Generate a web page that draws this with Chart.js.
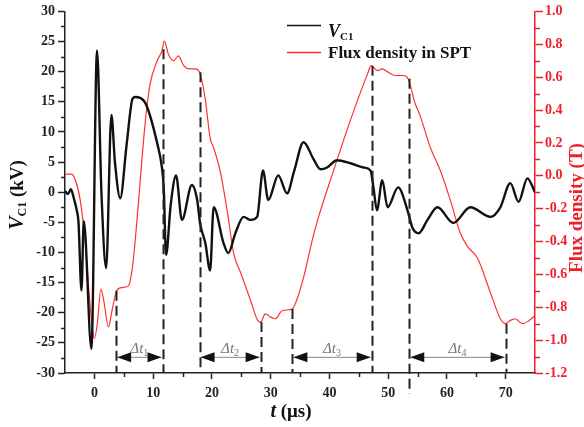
<!DOCTYPE html>
<html>
<head>
<meta charset="utf-8">
<script src="https://cdn.jsdelivr.net/npm/chart.js@4/dist/chart.umd.min.js"></script>
<style>
  body { margin: 0; background: #fff; }
  #wrap { width: 584px; height: 427px; }
</style>
</head>
<body>
<div id="wrap"><canvas id="chart" width="584" height="427"></canvas></div>
<script>
// datos
const tVc1 = [-5, -4.5, -4, -3.5, -3.0, -2.7, -2.2, -1.8, -0.5, 0.45, 1.2, 2.0, 2.9, 3.5, 4.4, 5.5, 6.5, 7.0, 8.4, 9.0, 10.7, 11.5, 11.8, 12.2, 13.0, 13.9, 14.9, 16.6, 17.5, 18.0, 18.9, 19.7, 20.3, 22.0, 22.8, 24.0, 25.4, 26.6, 27.7, 28.7, 29.6, 31.3, 32.8, 34.0, 35.6, 37.3, 38.5, 39.6, 41.3, 43.6, 45.8, 47.0, 47.5, 48.1, 49.0, 49.9, 51.7, 53.3, 54.1, 55.2, 56.7, 58.4, 61.1, 64.0, 67.4, 69.1, 70.8, 72.2, 73.7, 75];
const vc1 = [0.2, -0.3, 0.5, -1.0, -3.0, -5, -16.3, -4.8, -26, 23.5, 0, -12.6, 12.8, 5, -1.0, 8, 15.5, 15.8, 15.2, 14.1, 8.1, 4.1, 0.8, -10.4, -2, 2.8, -4.6, 1.2, -1.3, -5.2, -8.5, -13, -2.5, -8.5, -10.1, -6.8, -4.1, -4.6, -4.1, 3.6, -1.3, 2.8, -0.2, 3.5, 8.3, 5.5, 3.8, 4.1, 5.3, 4.8, 4.1, 3.6, 0.8, -3.0, 2.0, -2.5, 0.8, -3.0, -5.8, -6.8, -4.6, -2.5, -5.1, -2.5, -4.1, -2.5, 1.5, -1.6, 2.3, 0];

const tFlux = [-5, -3.9, -3.3, -2.4, -1.5, -0.7, 0, 0.5, 1.1, 1.6, 2.4, 3.0, 3.8, 4.7, 5.8, 6.5, 7.3, 7.8, 8.7, 9.5, 10.7, 11.5, 11.9, 12.6, 13.5, 14.3, 15.2, 16.3, 17.2, 18.0, 18.9, 19.7, 20.3, 21.4, 22.6, 23.7, 24.9, 26.6, 27.8, 28.3, 29.1, 30.0, 30.8, 32.0, 33.7, 34.4, 35.6, 37.1, 38.0, 40.7, 43.6, 46.5, 47.1, 48.2, 49.0, 50.0, 51.2, 52.6, 53.4, 54.6, 55.5, 57.2, 58.9, 60.6, 62.3, 63.5, 65.2, 67.4, 69.1, 70.0, 70.8, 71.7, 72.4, 73.0, 74.0, 75];
const flux = [0.01, 0.01, -0.02, -0.15, -0.43, -0.8, -0.99, -0.9, -0.69, -0.76, -0.92, -0.82, -0.70, -0.68, -0.67, -0.55, -0.25, -0.03, 0.34, 0.56, 0.70, 0.76, 0.82, 0.74, 0.70, 0.73, 0.67, 0.65, 0.65, 0.62, 0.46, 0.23, 0.17, 0.03, -0.21, -0.47, -0.59, -0.76, -0.88, -0.89, -0.84, -0.86, -0.87, -0.82, -0.81, -0.76, -0.62, -0.39, -0.27, 0.03, 0.34, 0.62, 0.67, 0.64, 0.65, 0.63, 0.61, 0.61, 0.59, 0.44, 0.36, 0.17, 0.03, -0.15, -0.35, -0.43, -0.50, -0.71, -0.87, -0.90, -0.88, -0.87, -0.89, -0.90, -0.88, -0.85];

// ticks
const xTicks = [0, 10, 20, 30, 40, 50, 60, 70];
const yTicks = [-30, -25, -20, -15, -10, -5, 0, 5, 10, 15, 20, 25, 30];
const y1Ticks = [-1.2, -1.0, -0.8, -0.6, -0.4, -0.2, 0.0, 0.2, 0.4, 0.6, 0.8, 1.0];

// lineas discontinuas: tiempo y valor de flujo donde empiezan
const markT = [3.7, 11.6, 17.9, 28.3, 33.7, 47.2, 53.6, 70.0];
const markFlux = [-0.70, 0.77, 0.63, -0.89, -0.81, 0.67, 0.59, -0.90];

// flechas delta t
const arrowFrom = [3.7, 17.9, 33.7, 53.6];
const arrowTo = [11.6, 28.3, 47.2, 70.0];
const arrowNames = ['1', '2', '3', '4'];
const arrowV = -27.4;

const SERIF = '"Liberation Serif", "Times New Roman", serif';
const RED = '#f0202a';
const AX = '#222';

function pts(xs, ys){ return xs.map((x, i) => ({x: x, y: ys[i]})); }

function richWidth(ctx, parts){
    let w = 0;
    parts.forEach(p => { ctx.font = p.font; w += ctx.measureText(p.t).width; });
    return w;
}
function drawRich(ctx, parts, x, y){
    parts.forEach(p => {
        ctx.font = p.font;
        ctx.fillText(p.t, x, y + (p.dy || 0));
        x += ctx.measureText(p.t).width;
    });
}

const overlay = {
    id: 'overlay',
    afterDatasetsDraw(chart){
        const ctx = chart.ctx;
        const xs = chart.scales.x, ys = chart.scales.y, y1 = chart.scales.y1;
        const area = chart.chartArea;
        ctx.save();
        // lineas discontinuas
        ctx.strokeStyle = AX;
        ctx.lineWidth = 2;
        ctx.setLineDash([10, 5]);
        markT.forEach((t, i) => {
            const px = Math.round(xs.getPixelForValue(t)) + 0.5;
            const top = y1.getPixelForValue(markFlux[i]);
            const bot = i === 6 ? area.bottom + 21 : area.bottom;
            ctx.beginPath();
            ctx.moveTo(px, top);
            ctx.lineTo(px, bot);
            ctx.stroke();
        });
        ctx.setLineDash([]);
        // flechas
        const ay = ys.getPixelForValue(arrowV);
        arrowFrom.forEach((a, i) => {
            const x0 = xs.getPixelForValue(a) + 1;
            const x1 = xs.getPixelForValue(arrowTo[i]) - 1;
            ctx.strokeStyle = '#888';
            ctx.lineWidth = 1;
            ctx.beginPath();
            ctx.moveTo(x0, ay);
            ctx.lineTo(x1, ay);
            ctx.stroke();
            ctx.fillStyle = '#111';
            ctx.beginPath();
            ctx.moveTo(x0, ay); ctx.lineTo(x0 + 14, ay - 5); ctx.lineTo(x0 + 14, ay + 5); ctx.closePath();
            ctx.fill();
            ctx.beginPath();
            ctx.moveTo(x1, ay); ctx.lineTo(x1 - 14, ay - 5); ctx.lineTo(x1 - 14, ay + 5); ctx.closePath();
            ctx.fill();
            // etiqueta
            const parts = [
                {t: '\u0394t', font: 'italic 15px ' + SERIF},
                {t: arrowNames[i], font: '10px ' + SERIF, dy: 3}
            ];
            const w = richWidth(ctx, parts);
            ctx.fillStyle = '#777';
            ctx.textBaseline = 'alphabetic';
            drawRich(ctx, parts, (x0 + x1) / 2 - w / 2, ay - 4);
        });
        ctx.restore();
    },
    afterDraw(chart){
        const ctx = chart.ctx;
        const xs = chart.scales.x, ys = chart.scales.y, y1 = chart.scales.y1;
        const area = chart.chartArea;
        ctx.save();
        // ticks menores
        ctx.lineWidth = 1.5;
        ctx.strokeStyle = AX;
        for (let v = -27.5; v < 30; v += 5){
            const py = Math.round(ys.getPixelForValue(v)) + 0.5;
            ctx.beginPath(); ctx.moveTo(area.left, py); ctx.lineTo(area.left - 4, py); ctx.stroke();
        }
        for (let v = 5; v < 70; v += 10){
            const px = Math.round(xs.getPixelForValue(v)) + 0.5;
            ctx.beginPath(); ctx.moveTo(px, area.bottom); ctx.lineTo(px, area.bottom + 4); ctx.stroke();
        }
        ctx.strokeStyle = RED;
        for (let k = 0; k < 11; k++){
            const v = -1.1 + k * 0.2;
            const py = Math.round(y1.getPixelForValue(v)) + 0.5;
            ctx.beginPath(); ctx.moveTo(area.right, py); ctx.lineTo(area.right + 5, py); ctx.stroke();
        }

        // titulos de ejes
        ctx.fillStyle = '#111';
        ctx.textBaseline = 'middle';
        let parts = [
            {t: 'V', font: 'italic bold 20px ' + SERIF},
            {t: 'C1', font: 'bold 12px ' + SERIF, dy: 5},
            {t: ' (kV)', font: 'bold 19px ' + SERIF}
        ];
        let w = richWidth(ctx, parts);
        ctx.save();
        ctx.translate(18, 195);
        ctx.rotate(-Math.PI / 2);
        drawRich(ctx, parts, -w / 2, 0);
        ctx.restore();

        ctx.textBaseline = 'alphabetic';
        parts = [
            {t: 't', font: 'italic bold 20px ' + SERIF},
            {t: ' (\u03bcs)', font: 'bold 19px ' + SERIF}
        ];
        w = richWidth(ctx, parts);
        drawRich(ctx, parts, 291 - w / 2, 417);

        ctx.fillStyle = RED;
        ctx.textBaseline = 'middle';
        ctx.save();
        ctx.translate(577, 208);
        ctx.rotate(-Math.PI / 2);
        ctx.font = 'bold 19px ' + SERIF;
        ctx.textAlign = 'center';
        ctx.fillText('Flux density (T)', 0, 0);
        ctx.restore();

        // leyenda
        ctx.lineWidth = 1.5;
        ctx.strokeStyle = '#111';
        ctx.beginPath(); ctx.moveTo(287, 25.5); ctx.lineTo(321, 25.5); ctx.stroke();
        ctx.strokeStyle = 'rgb(255,50,50)';
        ctx.beginPath(); ctx.moveTo(287, 52.5); ctx.lineTo(321, 52.5); ctx.stroke();
        ctx.textBaseline = 'alphabetic';
        ctx.fillStyle = '#111';
        drawRich(ctx, [
            {t: 'V', font: 'italic bold 18px ' + SERIF},
            {t: 'C1', font: 'bold 11px ' + SERIF, dy: 3}
        ], 328, 37);
        ctx.font = 'bold 17px ' + SERIF;
        ctx.fillText('Flux density in SPT', 328, 58);
        ctx.restore();
    }
};

const tickFont = {family: SERIF, size: 14, weight: 'bold'};

new Chart(document.getElementById('chart'), {
    type: 'line',
    data: {
        datasets: [{
            label: 'VC1',
            data: pts(tVc1, vc1),
            yAxisID: 'y',
            borderColor: '#111',
            borderWidth: 2.4,
            pointRadius: 0,
            cubicInterpolationMode: 'monotone'
        }, {
            label: 'Flux density in SPT',
            data: pts(tFlux, flux),
            yAxisID: 'y1',
            borderColor: 'rgb(255,50,50)',
            borderWidth: 1.2,
            pointRadius: 0,
            cubicInterpolationMode: 'monotone'
        }]
    },
    options: {
        responsive: false,
        animation: false,
        devicePixelRatio: 1,
        layout: {padding: {top: 11, left: 0, right: 0, bottom: 0}},
        plugins: {legend: {display: false}, tooltip: {enabled: false}},
        scales: {
            x: {
                type: 'linear', min: -5, max: 75,
                afterBuildTicks: s => { s.ticks = xTicks.map(v => ({value: v})); },
                afterFit: s => { s.height = 54; },
                ticks: {font: tickFont, color: AX, padding: 6, maxRotation: 0},
                grid: {drawOnChartArea: false, color: AX, tickLength: 6, tickWidth: 1.5},
                border: {color: AX, width: 1.5}
            },
            y: {
                position: 'left', min: -30, max: 30,
                afterBuildTicks: s => { s.ticks = yTicks.map(v => ({value: v})); },
                afterFit: s => { s.width = 65; },
                ticks: {font: tickFont, color: AX, padding: 3},
                grid: {drawOnChartArea: false, color: AX, tickLength: 7, tickWidth: 1.5},
                border: {color: AX, width: 1.5}
            },
            y1: {
                position: 'right', min: -1.2, max: 1.0,
                afterBuildTicks: s => { s.ticks = y1Ticks.map(v => ({value: v})); },
                afterFit: s => { s.width = 49; },
                ticks: {font: tickFont, color: RED, padding: 2, callback: v => v.toFixed(1)},
                grid: {drawOnChartArea: false, color: RED, tickLength: 8, tickWidth: 1.5},
                border: {color: RED, width: 1.5}
            }
        }
    },
    plugins: [overlay]
});
</script>
</body>
</html>
